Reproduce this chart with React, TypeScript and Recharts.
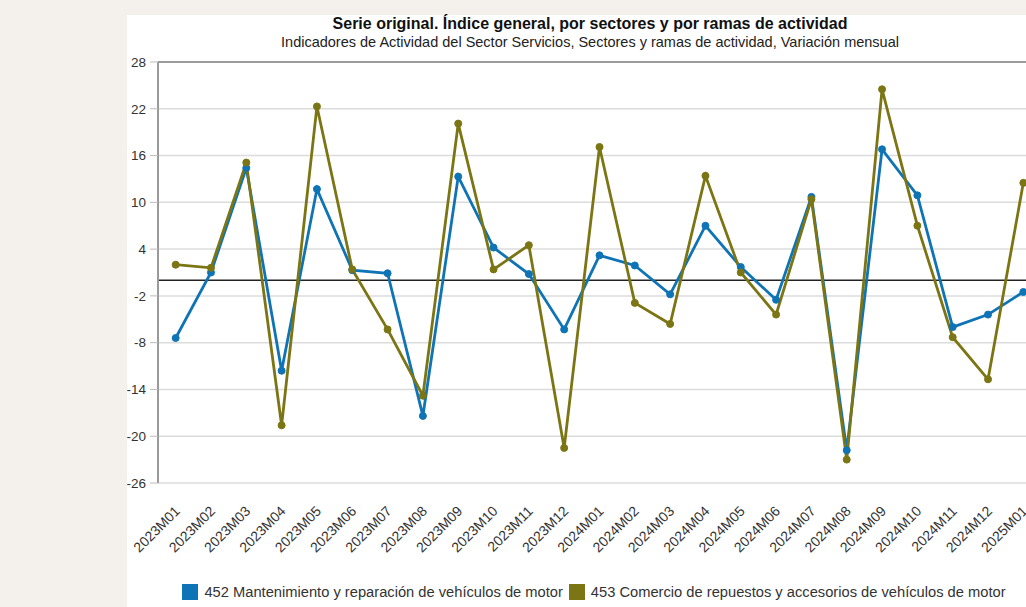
import React from 'react';
import { LineChart, Line, XAxis, YAxis, CartesianGrid, ReferenceLine } from 'recharts';

const categories = [
  '2023M01', '2023M02', '2023M03', '2023M04', '2023M05', '2023M06', '2023M07', '2023M08',
  '2023M09', '2023M10', '2023M11', '2023M12', '2024M01', '2024M02', '2024M03', '2024M04',
  '2024M05', '2024M06', '2024M07', '2024M08', '2024M09', '2024M10', '2024M11', '2024M12', '2025M01',
];
const s452 = [-7.4, 1.0, 14.4, -11.6, 11.7, 1.3, 0.9, -17.4, 13.3, 4.2, 0.8, -6.3, 3.2, 1.9, -1.8, 7.0, 1.7, -2.5, 10.7, -21.8, 16.8, 10.9, -6.0, -4.4, -1.5];
const s453 = [2.0, 1.6, 15.1, -18.6, 22.3, 1.4, -6.3, -14.8, 20.1, 1.4, 4.5, -21.5, 17.1, -2.9, -5.6, 13.4, 1.0, -4.4, 10.4, -23.0, 24.5, 7.0, -7.3, -12.7, 12.5];
const yTicks = [28, 22, 16, 10, 4, -2, -8, -14, -20, -26];
const seriesNames = [
  '452 Mantenimiento y reparación de vehículos de motor',
  '453 Comercio de repuestos y accesorios de vehículos de motor',
];
const title = 'Serie original. Índice general, por sectores y por ramas de actividad';
const subtitle = 'Indicadores de Actividad del Sector Servicios, Sectores y ramas de actividad, Variación mensual';

const COLORS = ['#0f74b6', '#7b7514'];
const FONT = '"Liberation Sans", Arial, sans-serif';

const data = categories.map((c, i) => ({ idx: i, cat: c, a: s452[i], b: s453[i] }));
const bandTicks = [...categories.map((_, i) => i - 0.5), categories.length - 0.5];
const labelTicks = categories.map((_, i) => i);

const EmptyTick = () => <g />;

const LabelTick = (props: any) => {
  const { x, y, payload } = props;
  const label = categories[payload.value] ?? '';
  return (
    <g transform={`translate(${x + 5},${y + 21})`}>
      <text x={0} y={0} textAnchor="end" transform="rotate(-45)" fontSize={14} fill="#333" fontFamily={FONT}>
        {label}
      </text>
    </g>
  );
};

export default function App() {
  return (
    <div style={{ position: 'absolute', left: 0, top: 0, width: 1026, height: 607, background: '#f4f1ed', overflow: 'hidden', fontFamily: FONT }}>
      <div style={{ position: 'absolute', left: 127, top: 15, width: 926, height: 600, background: '#ffffff' }}>
        <div style={{ position: 'absolute', left: 0, top: 0, width: 926, textAlign: 'center', fontSize: 16, lineHeight: '18px', fontWeight: 'bold', color: '#111' }}>
          {title}
        </div>
        <div style={{ position: 'absolute', left: 0, top: 19, width: 926, textAlign: 'center', fontSize: 14.5, lineHeight: '17px', color: '#222' }}>
          {subtitle}
        </div>
        <div style={{ position: 'absolute', left: 0, top: 0 }}>
          <LineChart width={926} height={600} data={data} margin={{ top: 47, right: 12, left: 0, bottom: 62 }}>
            <CartesianGrid horizontal vertical={false} stroke="#dcdcdc" strokeWidth={1.5} />
            <XAxis
              dataKey="idx"
              type="number"
              domain={[-0.5, categories.length - 0.5]}
              ticks={bandTicks}
              tick={EmptyTick}
              height={0}
              tickSize={6}
              stroke="#9a9a9a"
              strokeWidth={2}
              tickLine={{ stroke: '#bbb', strokeWidth: 1 }}
              interval={0}
              allowDataOverflow
            />
            <XAxis
              xAxisId="lab"
              dataKey="idx"
              type="number"
              domain={[-0.5, categories.length - 0.5]}
              ticks={labelTicks}
              tick={LabelTick}
              axisLine={false}
              tickLine={false}
              height={70}
              interval={0}
              allowDataOverflow
            />
            <YAxis
              type="number"
              domain={[-26, 28]}
              ticks={yTicks}
              width={31}
              tickSize={8}
              tickMargin={4}
              interval={0}
              stroke="#9a9a9a"
              strokeWidth={2}
              tickLine={{ stroke: '#bbb', strokeWidth: 1 }}
              tick={{ fontSize: 13.5, fill: '#333', fontFamily: FONT }}
            />
            <ReferenceLine y={28} stroke="#9a9a9a" strokeWidth={2} />
            <ReferenceLine y={0} stroke="#222" strokeWidth={1.4} />
            <Line dataKey="a" name={seriesNames[0]} stroke={COLORS[0]} strokeWidth={2.8} dot={{ r: 3.5, fill: COLORS[0], stroke: COLORS[0], strokeWidth: 1 }} isAnimationActive={false} />
            <Line dataKey="b" name={seriesNames[1]} stroke={COLORS[1]} strokeWidth={2.8} dot={{ r: 3.5, fill: COLORS[1], stroke: COLORS[1], strokeWidth: 1 }} isAnimationActive={false} />
          </LineChart>
        </div>
        <div style={{ position: 'absolute', left: 4, top: 569, width: 926, display: 'flex', justifyContent: 'center', alignItems: 'center', fontSize: 14.7, color: '#333' }}>
          {seriesNames.map((n, i) => (
            <div key={n} style={{ display: 'flex', alignItems: 'center', marginRight: i === 0 ? 6 : 0 }}>
              <span style={{ display: 'inline-block', width: 16, height: 16, background: COLORS[i], marginRight: 6 }} />
              <span>{n}</span>
            </div>
          ))}
        </div>
      </div>
    </div>
  );
}
